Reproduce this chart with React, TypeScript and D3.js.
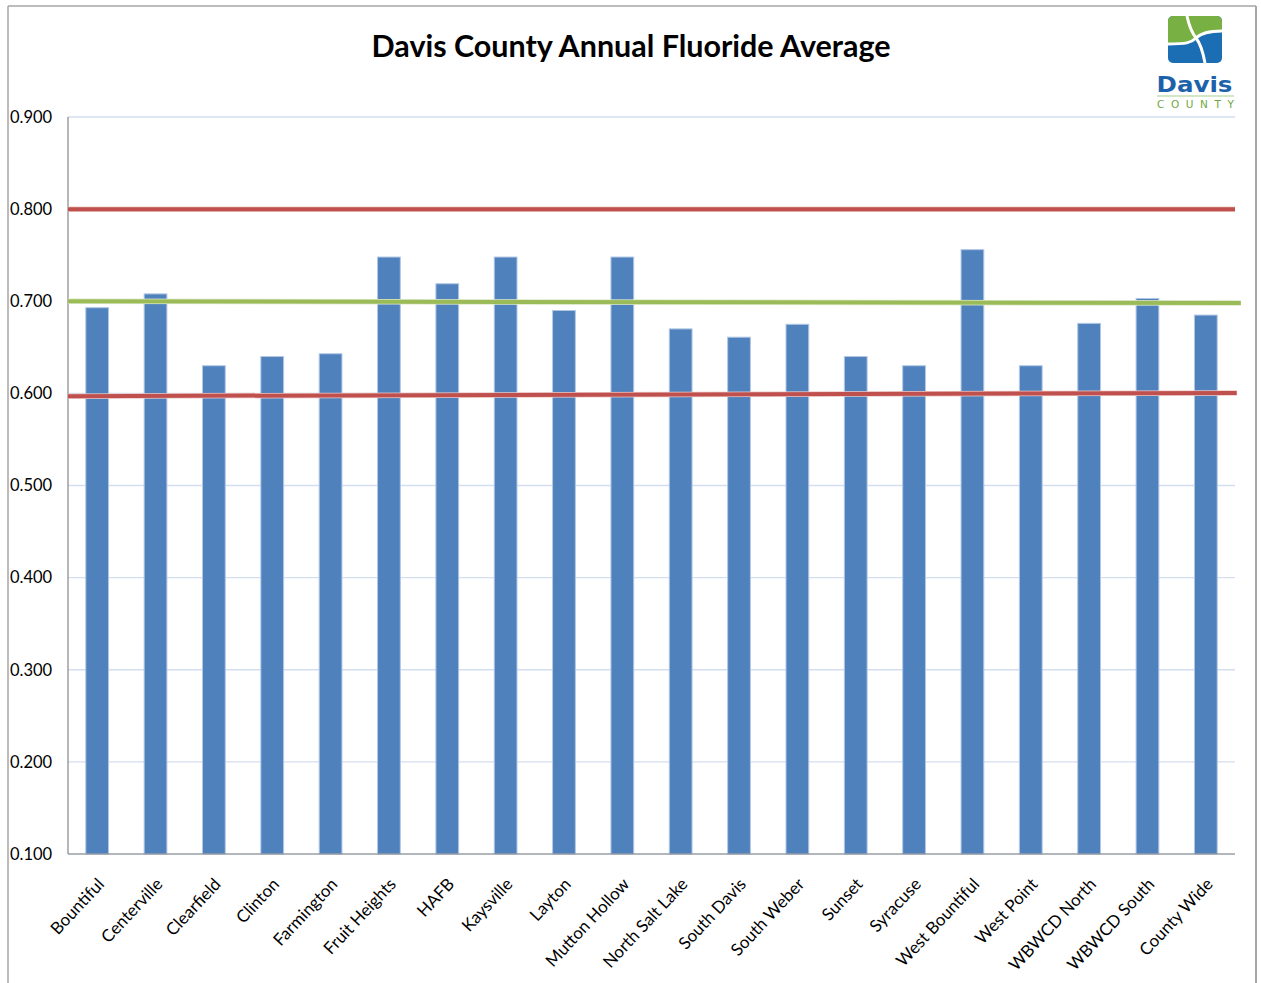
import React from "react";
import * as d3 from "d3";

// Annual fluoride averages (mg/L) by water system
const systems = [
  "Bountiful", "Centerville", "Clearfield", "Clinton", "Farmington",
  "Fruit Heights", "HAFB", "Kaysville", "Layton", "Mutton Hollow",
  "North Salt Lake", "South Davis", "South Weber", "Sunset", "Syracuse",
  "West Bountiful", "West Point", "WBWCD North", "WBWCD South", "County Wide",
];
const averages = [
  0.693, 0.708, 0.630, 0.640, 0.643,
  0.748, 0.719, 0.748, 0.690, 0.748,
  0.670, 0.661, 0.675, 0.640, 0.630,
  0.756, 0.630, 0.676, 0.703, 0.685,
];

// Reference lines: [startIndex, startValue, endIndex, endValue] in category units
const upperLimit = [0, 0.8, 20, 0.8];
const targetLine = [0, 0.7, 20.1, 0.698];
const lowerLimit = [0, 0.597, 20.03, 0.6005];

const yTicks = [0.1, 0.2, 0.3, 0.4, 0.5, 0.6, 0.7, 0.8, 0.9];

const W = 1261;
const H = 983;
const M = { left: 68, right: 1235, top: 117, bottom: 854 };

const FONT = "Lato, 'Open Sans', sans-serif";

export default function App() {
  const x = d3
    .scaleBand<string>()
    .domain(systems)
    .range([M.left, M.right])
    .paddingInner(0.61)
    .paddingOuter(0.305);
  const xi = d3.scaleLinear().domain([0, systems.length]).range([M.left, M.right]);
  const y = d3.scaleLinear().domain([0.1, 0.9]).range([M.bottom, M.top]);
  const line = d3
    .line<[number, number]>()
    .x((d) => xi(d[0]))
    .y((d) => y(d[1]));

  const refLine = (r: number[], color: string, halo: string, key: string) => {
    const pts: [number, number][] = [
      [r[0], r[1]],
      [r[2], r[3]],
    ];
    return (
      <g key={key}>
        <path d={line(pts) || ""} stroke={halo} strokeWidth={5.5} fill="none" />
        <path d={line(pts) || ""} stroke={color} strokeWidth={4} fill="none" />
      </g>
    );
  };

  return (
    <svg
      width={W}
      height={H}
      style={{ position: "absolute", left: 0, top: 0, background: "#fff" }}
    >
      {/* outer frame */}
      <line x1={8} y1={6} x2={1256} y2={6} stroke="#a6a6a6" strokeWidth={1.5} />
      <line x1={8} y1={6} x2={8} y2={H} stroke="#a6a6a6" strokeWidth={1.5} />
      <line x1={1256} y1={6} x2={1256} y2={H} stroke="#a6a6a6" strokeWidth={2} />

      {/* title */}
      <text
        x={631}
        y={57}
        textAnchor="middle"
        fontFamily={FONT}
        fontWeight={700}
        fontSize={30}
        textLength={519}
        lengthAdjust="spacingAndGlyphs"
        fill="#000"
      >
        Davis County Annual Fluoride Average
      </text>

      {/* logo */}
      <g>
        <defs>
          <clipPath id="logoClip">
            <rect x={1168} y={16} width={54} height={47} rx={5} />
          </clipPath>
        </defs>
        <g clipPath="url(#logoClip)">
          <rect x={1168} y={16} width={54} height={47} fill="#1b6db4" />
          <path
            d="M1168,16 L1222,16 L1222,31 C1206,31 1200,34 1196,38 C1191,43 1186,44 1168,44 Z"
            fill="#78b043"
          />
          <path
            d="M1222,31 C1206,31 1200,34 1196,38 C1191,43 1186,44 1168,44"
            stroke="#fff"
            strokeWidth={3}
            fill="none"
          />
          <path
            d="M1187,16 C1189,26 1193,34 1196,38 C1200,43 1203,52 1205,63"
            stroke="#fff"
            strokeWidth={3}
            fill="none"
          />
        </g>
        <text
          x={1194.5}
          y={92}
          textAnchor="middle"
          fontFamily="'DejaVu Sans', sans-serif"
          fontWeight={700}
          fontSize={21}
          textLength={76}
          lengthAdjust="spacingAndGlyphs"
          fill="#1c62ab"
        >
          Davis
        </text>
        <line x1={1157} y1={96} x2={1234} y2={96} stroke="#a9cf8a" strokeWidth={1} />
        <text
          x={1195.5}
          y={108}
          textAnchor="middle"
          fontFamily="'DejaVu Sans', sans-serif"
          fontSize={10.5}
          textLength={77}
          lengthAdjust="spacing"
          fill="#6fa844"
        >
          COUNTY
        </text>
      </g>

      {/* gridlines */}
      {yTicks.map((t) => (
        <line
          key={`g${t}`}
          x1={M.left}
          x2={M.right}
          y1={y(t)}
          y2={y(t)}
          stroke="#d3def0"
          strokeWidth={1.3}
        />
      ))}

      {/* y tick labels */}
      {yTicks.map((t) => (
        <text
          key={`l${t}`}
          x={10}
          y={y(t)}
          dy="0.35em"
          fontFamily={FONT}
          fontSize={16.5}
          fill="#000"
        >
          {d3.format(".3f")(t)}
        </text>
      ))}

      {/* bars */}
      {systems.map((s, i) => (
        <rect
          key={s}
          x={x(s)}
          y={y(averages[i])}
          width={x.bandwidth()}
          height={y(0.1) - y(averages[i])}
          fill="#4f81bd"
          stroke="#b2c7e4"
          strokeWidth={1}
        />
      ))}

      {/* axes */}
      <line x1={M.left} x2={M.left} y1={M.top} y2={M.bottom} stroke="#868686" strokeWidth={1.2} />
      <line x1={M.left} x2={M.right} y1={M.bottom} y2={M.bottom} stroke="#868686" strokeWidth={1.2} />

      {/* reference lines */}
      {refLine(upperLimit, "#c0504d", "#ecc9c8", "upper")}
      {refLine(targetLine, "#9bbb59", "#dde9c9", "target")}
      {refLine(lowerLimit, "#c0504d", "#ecc9c8", "lower")}

      {/* category labels */}
      {systems.map((s) => {
        const cx = (x(s) || 0) + x.bandwidth() / 2 + 8;
        const cy = 885;
        return (
          <text
            key={`c${s}`}
            transform={`translate(${cx},${cy}) rotate(-47)`}
            textAnchor="end"
            fontFamily={FONT}
            fontSize={17}
            fill="#000"
          >
            {s}
          </text>
        );
      })}
    </svg>
  );
}
